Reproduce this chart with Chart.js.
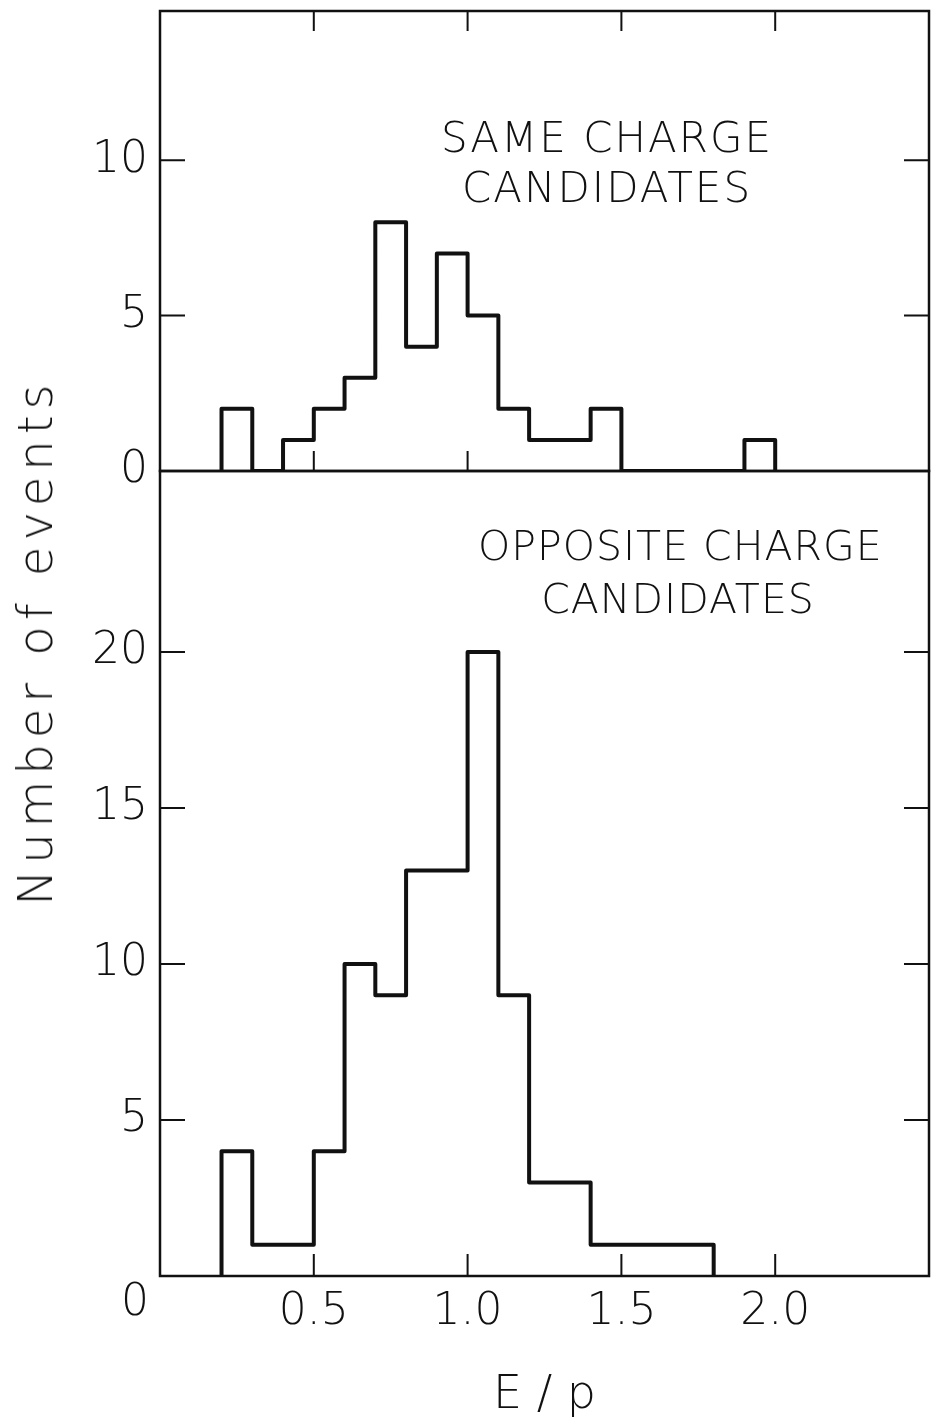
<!DOCTYPE html>
<html>
<head>
<meta charset="utf-8">
<script src="https://cdn.jsdelivr.net/npm/chart.js@4.4.1/dist/chart.umd.min.js"></script>
<style>
  body { margin: 0; background: #fff; }
  #wrap { position: relative; width: 937px; height: 1426px; }
  canvas { position: absolute; left: 0; top: 0; }
  .note { position: absolute; font-family: 'DejaVu Sans'; font-weight: 200; color: #111;
          text-align: center; white-space: nowrap; letter-spacing: 2px; }
  #ytitle { position: absolute; font-family: 'DejaVu Sans'; font-weight: 200; color: #111;
            font-size: 48px; letter-spacing: 6px; white-space: nowrap;
            left: 35px; top: 642px; transform: translate(-50%, -50%) rotate(-90deg); }
</style>
</head>
<body>
<div id="wrap">
  <canvas id="top" width="937" height="1426"></canvas>
  <canvas id="bottom" width="937" height="1426"></canvas>
  <div class="note" style="left:407px;top:113px;width:400px;font-size:42px;line-height:50px;">SAME CHARGE<br>CANDIDATES</div>
  <div class="note" style="left:478px;top:520px;width:400px;font-size:41px;line-height:53px;letter-spacing:1px;">OPPOSITE CHARGE<br>CANDIDATES</div>
  <div id="ytitle">Number of events</div>
</div>
<script>
// bin edges of E/p, width 0.1
var binEdges = [0.2, 0.3, 0.4, 0.5, 0.6, 0.7, 0.8, 0.9, 1.0, 1.1, 1.2, 1.3, 1.4, 1.5, 1.6, 1.7, 1.8, 1.9, 2.0];
// counts per bin
var sameCharge = [2, 0, 1, 2, 3, 8, 4, 7, 5, 2, 1, 1, 2, 0, 0, 0, 0, 1];
var oppositeCharge = [4, 1, 1, 4, 10, 9, 13, 13, 20, 9, 3, 3, 1, 1, 1, 1];

var xTicks = [0.5, 1.0, 1.5, 2.0];
var yTicksTop = [0, 5, 10];
var yTicksBottom = [0, 5, 10, 15, 20];

var fontFamily = "'DejaVu Sans'";
var ink = '#111';

// outline of a histogram: up at first edge, steps, down at last edge
function histPoints(edges, counts) {
  var pts = [{ x: edges[0], y: 0 }];
  counts.forEach(function (c, i) { pts.push({ x: edges[i], y: c }); });
  pts.push({ x: edges[counts.length], y: 0 });
  return pts;
}

// box round the plot area and inward tick marks
var framePlugin = {
  id: 'frame',
  afterDraw: function (chart, args, opts) {
    var ctx = chart.ctx, a = chart.chartArea;
    var x = chart.scales.x, y = chart.scales.y;
    ctx.save();
    ctx.strokeStyle = ink;
    ctx.lineWidth = 2.5;
    ctx.strokeRect(a.left, a.top, a.right - a.left, a.bottom - a.top);
    ctx.lineWidth = 2;
    ctx.beginPath();
    xTicks.forEach(function (v) {
      var px = x.getPixelForValue(v);
      if (opts.topLen) { ctx.moveTo(px, a.top); ctx.lineTo(px, a.top + opts.topLen); }
      if (opts.botLen) { ctx.moveTo(px, a.bottom); ctx.lineTo(px, a.bottom - opts.botLen); }
    });
    opts.yTicks.forEach(function (v) {
      if (v === 0) return;
      var py = y.getPixelForValue(v);
      ctx.moveTo(a.left, py); ctx.lineTo(a.left + 25, py);
      ctx.moveTo(a.right, py); ctx.lineTo(a.right - 25, py);
    });
    ctx.stroke();
    if (opts.cornerZero) {
      ctx.fillStyle = ink;
      ctx.font = '200 44px ' + fontFamily;
      ctx.textAlign = 'center';
      ctx.textBaseline = 'middle';
      ctx.fillText('0', x.getPixelForValue(0) - 25, a.bottom + 28);
    }
    ctx.restore();
  }
};

function makeChart(id, counts, yMax, yTicks, padding, showX, frameOpts) {
  return new Chart(document.getElementById(id), {
    type: 'line',
    data: {
      datasets: [{
        data: histPoints(binEdges, counts),
        stepped: true,
        borderColor: ink,
        borderWidth: 4,
        borderJoinStyle: 'round',
        pointRadius: 0,
        fill: false
      }]
    },
    options: {
      responsive: false,
      animation: false,
      layout: { padding: padding },
      plugins: { legend: { display: false }, tooltip: { enabled: false }, frame: frameOpts },
      scales: {
        x: {
          type: 'linear', min: 0, max: 2.5,
          display: showX,
          grid: { display: false, drawTicks: false },
          border: { display: false },
          afterBuildTicks: function (axis) { axis.ticks = xTicks.map(function (v) { return { value: v }; }); },
          afterFit: function (axis) {
            axis.paddingLeft = 0; axis.paddingRight = 0;
            if (showX) axis.height = 150;
          },
          ticks: {
            color: ink, padding: 10,
            font: { family: fontFamily, size: 44, weight: '200' },
            callback: function (v) { return v.toFixed(1); }
          },
          title: {
            display: true, text: 'E / p', color: ink,
            font: { family: fontFamily, size: 46, weight: '200' },
            padding: { top: 0, bottom: 2 }
          }
        },
        y: {
          type: 'linear', min: 0, max: yMax,
          grid: { display: false, drawTicks: false },
          border: { display: false },
          afterBuildTicks: function (axis) { axis.ticks = yTicks.map(function (v) { return { value: v }; }); },
          afterFit: function (axis) {
            axis.width = 160;
            axis.paddingTop = 0; axis.paddingBottom = 0;
          },
          ticks: {
            color: ink, padding: 12,
            font: { family: fontFamily, size: 44, weight: '200' },
            callback: function (v) { return (showX && v === 0) ? '' : String(v); }
          }
        }
      }
    },
    plugins: [framePlugin]
  });
}

makeChart('top', sameCharge, 14.8, yTicksTop,
  { top: 11, right: 8, bottom: 955, left: 0 }, false,
  { topLen: 20, botLen: 20, yTicks: yTicksTop });
makeChart('bottom', oppositeCharge, 25.8, yTicksBottom,
  { top: 471, right: 8, bottom: 0, left: 0 }, true,
  { topLen: 0, botLen: 22, yTicks: yTicksBottom, cornerZero: true });
</script>
</body>
</html>
